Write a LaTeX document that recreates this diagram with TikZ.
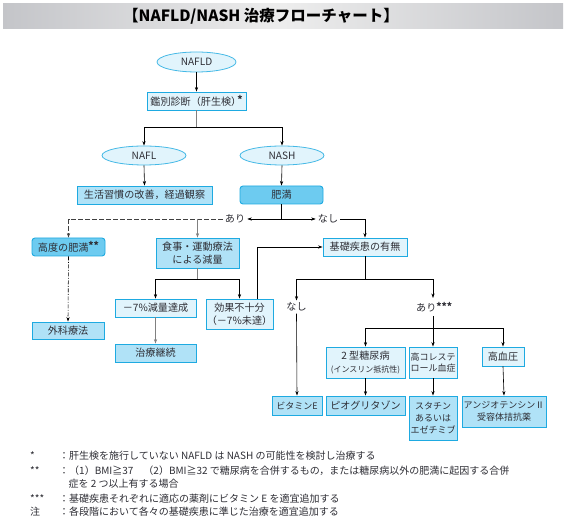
\documentclass[tikz,border=0pt]{standalone}
\usepackage{fontspec}
\setmainfont{Noto Sans CJK JP}
\usetikzlibrary{shapes.geometric,arrows.meta}
\definecolor{bord}{HTML}{1EAAE1}
\definecolor{ebord}{HTML}{45B9E6}
\definecolor{lfill}{HTML}{E1F4FC}
\definecolor{mfill}{HTML}{B0E2F7}
\definecolor{dfill}{HTML}{6DCBF0}
\definecolor{txt}{HTML}{2E2E35}
\definecolor{bandA}{HTML}{C4C5C9}
\definecolor{bandB}{HTML}{EDEDED}
\newcommand{\myast}[1]{\raisebox{1.5pt}{\fontsize{10}{10}\selectfont\bfseries #1}}
\begin{document}
\begin{tikzpicture}[x=1pt,y=-1pt,
  base/.style={draw=bord, line width=0.9pt, inner sep=0pt, align=center,
    font=\fontsize{10.1}{12.6}\selectfont, text=txt},
  small/.style={font=\fontsize{9}{11.6}\selectfont},
  lbox/.style={base, fill=lfill},
  mbox/.style={base, fill=mfill},
  dbox/.style={base, fill=dfill, rounded corners=3pt},
  ell/.style={ellipse, draw=ebord, fill=lfill, line width=0.8pt, inner sep=0pt,
    font=\fontsize{10.1}{12.6}\selectfont, text=txt},
  lab/.style={inner sep=2pt, font=\fontsize{10.1}{12.6}\selectfont, text=txt},
  arr/.style={-{Stealth[length=4.5pt,width=3.2pt]}, line width=0.6pt, draw=black},
  garr/.style={arr, draw=gray},
  ln/.style={line width=0.6pt, draw=black},
  gln/.style={line width=0.6pt, draw=gray},
  fn/.style={anchor=west, inner sep=0pt, font=\fontsize{10}{11}\selectfont, text=txt}
]
\useasboundingbox (0,0) rectangle (566,526);
\fill[white] (0,0) rectangle (566,526);
% title band
\shade[left color=bandA, right color=bandA, middle color=bandB] (3,4) rectangle (563,29);
\node[inner sep=0pt, font=\fontsize{15.5}{18}\selectfont\bfseries] (title) at (261,16.5) {【NAFLD/NASH 治療フローチャート】};

% nodes
\node[ell, minimum width=79pt, minimum height=20pt] (nafld) at (196.5,62) {NAFLD};
\node[lbox, minimum width=99pt, minimum height=18pt] (kan) at (196.5,101) {鑑別診断（肝生検）\kern-0.4em\myast{*}};
\node[ell, minimum width=84pt, minimum height=19pt] (nafl) at (144,155.5) {NAFL};
\node[ell, minimum width=84pt, minimum height=19pt] (nash) at (282,155.5) {NASH};
\node[mbox, minimum width=135pt, minimum height=18pt] (sei) at (144.5,195) {生活習慣の改善，経過観察};
\node[dbox, minimum width=83pt, minimum height=18pt] (himan) at (281.5,195) {肥満};
\node[lab] (ari1) at (235,219) {あり};
\node[lab] (nashi1) at (328,219) {なし};
\node[dbox, minimum width=73pt, minimum height=18pt] (koudo) at (68.5,247) {高度の肥満\myast{**}};
\node[mbox, minimum width=83pt, minimum height=30pt] (shoku) at (197.5,253) {食事・運動療法\\による減量};
\node[lbox, minimum width=84pt, minimum height=18pt] (kiso) at (365,247) {基礎疾患の有無};
\node[mbox, minimum width=72pt, minimum height=17pt] (geka) at (68,330.5) {外科療法};
\node[lbox, minimum width=81pt, minimum height=18pt] (gen) at (155.5,308) {－7\%減量達成};
\node[lbox, minimum width=67pt, minimum height=30pt] (kouka) at (239.5,314) {効果不十分\\（－7\%未達）};
\node[mbox, minimum width=81pt, minimum height=18pt] (keizoku) at (155.5,353) {治療継続};
\node[lab] (nashi2) at (296.5,307) {なし};
\node[lab, anchor=west, inner sep=0pt] (ari2) at (416,307) {あり\myast{***}};
\node[lbox, minimum width=79pt, minimum height=31pt] (dm) at (365.5,362.5) {2 型糖尿病\\{\fontsize{8}{10}\selectfont (インスリン抵抗性)}};
\node[lbox, small, minimum width=48pt, minimum height=31pt] (chol) at (433,362.5) {高コレステ\\ロール血症};
\node[lbox, minimum width=42pt, minimum height=19pt] (htn) at (503,356.5) {高血圧};
\node[mbox, small, minimum width=50pt, minimum height=19pt] (vitE) at (297,405.5) {ビタミンE};
\node[mbox, minimum width=79pt, minimum height=19pt] (pio) at (365.5,405.5) {ピオグリタゾン};
\node[mbox, small, minimum width=48pt, minimum height=44pt] (stat) at (433,418) {スタチン\\あるいは\\エゼチミブ};
\node[mbox, small, minimum width=84pt, minimum height=31pt] (arb) at (504,411.5) {アンジオテンシンⅡ\\受容体拮抗薬};

% junctions
\coordinate (j1) at (196.5,127);
\coordinate (j2) at (281.5,219);
\coordinate (j3) at (197.5,279);
\coordinate (j4) at (365,279);
\coordinate (a2top) at (433,298);
\coordinate (a2bot) at (433,316);
\coordinate (j5) at (433,328);

% connectors
\draw[arr] (nafld.south) -- (kan.north);
\draw[gln] (kan.south) -- (j1);
\draw[arr] (j1) -| (nafl.north);
\draw[arr] (j1) -| (nash.north);
\draw[arr] (nafl.south) -- (sei.north);
\draw[arr] (nash.south) -- (himan.north);
\draw[ln] (himan.south) -- (j2);
\draw[arr] (j2) -- (ari1.east);
\draw[arr] (j2) -- (nashi1.west);
\draw[arr] (nashi1.east) -| (kiso.north);
\draw[arr, dash pattern=on 5pt off 2pt, draw=black!75] (ari1.west) -| (koudo.north);
\draw[garr] (shoku.north |- ari1) -- (shoku.north);
\draw[arr, dash pattern=on 4pt off 1.5pt on 1pt off 1.5pt] (koudo.south) -- (geka.north);
\draw[gln] (shoku.south) -- (j3);
\draw[arr] (j3) -| (gen.north);
\draw[arr] (j3) -| (kouka.north);
\draw[garr] (gen.south) -- (keizoku.north);
\draw[arr] ([xshift=17.5pt]kouka.north) |- (kiso.west);
\draw[ln] (kiso.south) -- (j4);
\draw[arr] (j4) -| (nashi2.north);
\draw[arr] (j4) -| (a2top);
\draw[arr] (nashi2.south) -- (vitE.north);
\draw[ln] (a2bot) -- (j5);
\draw[arr] (j5) -| (dm.north);
\draw[arr] (j5) -- (chol.north);
\draw[arr] (j5) -| (htn.north);
\draw[arr] (dm.south) -- (pio.north);
\draw[arr] (chol.south) -- (stat.north);
\draw[arr] (htn.south) -- (arb.north);

% footnotes
\node[fn] (m1) at (30,456) {*};
\node[fn] (t1) at (59,456) {：肝生検を施行していない NAFLD は NASH の可能性を検討し治療する};
\node[fn] (m2) at (30,471) {**};
\node[fn] (t2) at (59,471) {：（1）BMI≧37　（2）BMI≧32 で糖尿病を合併するもの，または糖尿病以外の肥満に起因する合併};
\node[fn] (t2b) at (68.5,484) {症を 2 つ以上有する場合};
\node[fn] (m3) at (30,499) {***};
\node[fn] (t3) at (59,499) {：基礎疾患それぞれに適応の薬剤にビタミン E を適宜追加する};
\node[fn] (m4) at (30,512) {注};
\node[fn] (t4) at (59,512) {：各段階において各々の基礎疾患に準じた治療を適宜追加する};
\end{tikzpicture}
\end{document}
